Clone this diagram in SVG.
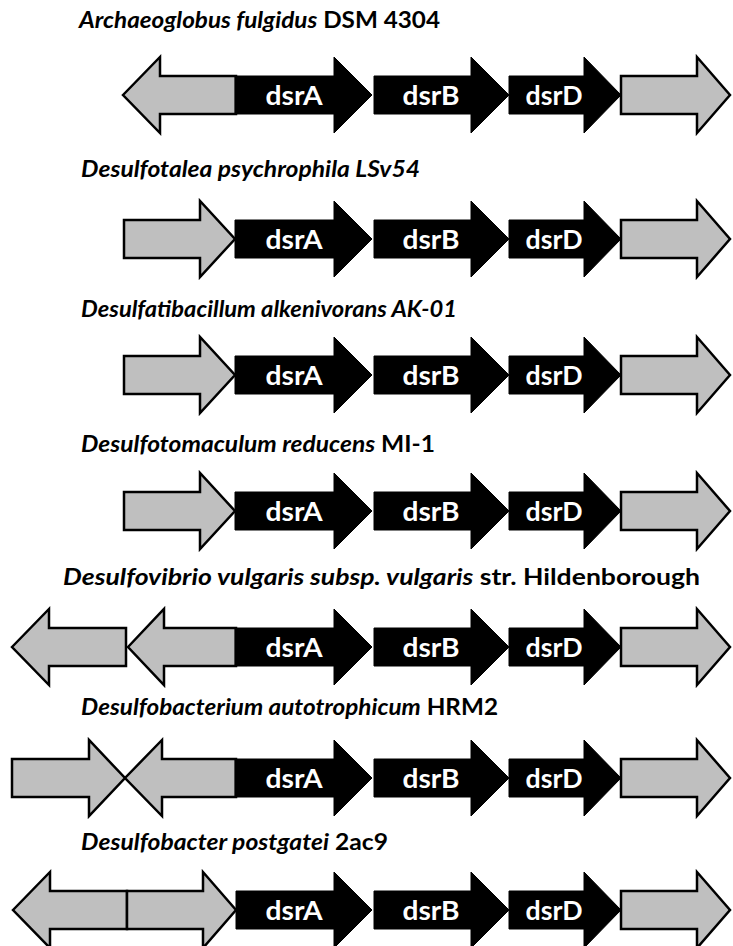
<svg xmlns="http://www.w3.org/2000/svg" width="733" height="946" viewBox="0 0 733 946">
<style>
  .grey { fill: #bfbfbf; stroke: #000; stroke-width: 2.5; stroke-linejoin: miter; }
  .black { fill: #000; stroke: #000; stroke-width: 1; }
  .lbl { font-family: Lato, "Liberation Sans", sans-serif; font-weight: bold; font-size: 26px; fill: #fff; text-anchor: middle; }
  .title { font-family: Lato, "Liberation Sans", sans-serif; font-weight: bold; font-size: 22px; fill: #000; }
  .it { font-style: italic; }
</style>
<rect width="733" height="946" fill="#fff"/>

<!-- Row 1 -->
<g id="row1" transform="translate(0,95)">
  <text class="title" x="79" y="-67" textLength="361" lengthAdjust="spacingAndGlyphs"><tspan class="it">Archaeoglobus fulgidus</tspan> DSM 4304</text>
  <g id="r1-left"><polygon class="grey" points="123,0 160,-38 160,-19 236,-19 236,19 160,19 160,38"/></g>
  <g id="r1-dsrA"><polygon class="black" points="235,-19 334,-19 334,-38 372,0 334,38 334,19 235,19"/><text class="lbl" x="294" y="10" textLength="57" lengthAdjust="spacingAndGlyphs">dsrA</text></g>
  <g id="r1-dsrB"><polygon class="black" points="374,-19 471,-19 471,-38 509,0 471,38 471,19 374,19"/><text class="lbl" x="431" y="10" textLength="57" lengthAdjust="spacingAndGlyphs">dsrB</text></g>
  <g id="r1-dsrD"><polygon class="black" points="509,-19 584,-19 584,-38 621,0 584,38 584,19 509,19"/><text class="lbl" x="554" y="10" textLength="57" lengthAdjust="spacingAndGlyphs">dsrD</text></g>
  <g id="r1-right"><polygon class="grey" points="621,-19 697,-19 697,-38 730,0 697,38 697,19 621,19"/></g>
</g>

<!-- Row 2 -->
<g id="row2" transform="translate(0,239)">
  <text class="title it" x="81" y="-62" textLength="339" lengthAdjust="spacingAndGlyphs">Desulfotalea psychrophila  LSv54</text>
  <g id="r2-left"><polygon class="grey" points="124,-19 200,-19 200,-38 235,0 200,38 200,19 124,19"/></g>
  <g id="r2-dsrA"><polygon class="black" points="235,-19 334,-19 334,-38 372,0 334,38 334,19 235,19"/><text class="lbl" x="294" y="10" textLength="57" lengthAdjust="spacingAndGlyphs">dsrA</text></g>
  <g id="r2-dsrB"><polygon class="black" points="374,-19 471,-19 471,-38 509,0 471,38 471,19 374,19"/><text class="lbl" x="431" y="10" textLength="57" lengthAdjust="spacingAndGlyphs">dsrB</text></g>
  <g id="r2-dsrD"><polygon class="black" points="509,-19 584,-19 584,-38 621,0 584,38 584,19 509,19"/><text class="lbl" x="554" y="10" textLength="57" lengthAdjust="spacingAndGlyphs">dsrD</text></g>
  <g id="r2-right"><polygon class="grey" points="621,-19 697,-19 697,-38 730,0 697,38 697,19 621,19"/></g>
</g>

<!-- Row 3 -->
<g id="row3" transform="translate(0,375)">
  <text class="title it" x="81" y="-58" textLength="376" lengthAdjust="spacingAndGlyphs">Desulfatibacillum alkenivorans AK-01</text>
  <g id="r3-left"><polygon class="grey" points="124,-19 200,-19 200,-38 235,0 200,38 200,19 124,19"/></g>
  <g id="r3-dsrA"><polygon class="black" points="235,-19 334,-19 334,-38 372,0 334,38 334,19 235,19"/><text class="lbl" x="294" y="10" textLength="57" lengthAdjust="spacingAndGlyphs">dsrA</text></g>
  <g id="r3-dsrB"><polygon class="black" points="374,-19 471,-19 471,-38 509,0 471,38 471,19 374,19"/><text class="lbl" x="431" y="10" textLength="57" lengthAdjust="spacingAndGlyphs">dsrB</text></g>
  <g id="r3-dsrD"><polygon class="black" points="509,-19 584,-19 584,-38 621,0 584,38 584,19 509,19"/><text class="lbl" x="554" y="10" textLength="57" lengthAdjust="spacingAndGlyphs">dsrD</text></g>
  <g id="r3-right"><polygon class="grey" points="621,-19 697,-19 697,-38 730,0 697,38 697,19 621,19"/></g>
</g>

<!-- Row 4 -->
<g id="row4" transform="translate(0,511)">
  <text class="title" x="81" y="-59" textLength="354" lengthAdjust="spacingAndGlyphs"><tspan class="it">Desulfotomaculum reducens</tspan> MI-1</text>
  <g id="r4-left"><polygon class="grey" points="124,-19 200,-19 200,-38 235,0 200,38 200,19 124,19"/></g>
  <g id="r4-dsrA"><polygon class="black" points="235,-19 334,-19 334,-38 372,0 334,38 334,19 235,19"/><text class="lbl" x="294" y="10" textLength="57" lengthAdjust="spacingAndGlyphs">dsrA</text></g>
  <g id="r4-dsrB"><polygon class="black" points="374,-19 471,-19 471,-38 509,0 471,38 471,19 374,19"/><text class="lbl" x="431" y="10" textLength="57" lengthAdjust="spacingAndGlyphs">dsrB</text></g>
  <g id="r4-dsrD"><polygon class="black" points="509,-19 584,-19 584,-38 621,0 584,38 584,19 509,19"/><text class="lbl" x="554" y="10" textLength="57" lengthAdjust="spacingAndGlyphs">dsrD</text></g>
  <g id="r4-right"><polygon class="grey" points="621,-19 697,-19 697,-38 730,0 697,38 697,19 621,19"/></g>
</g>

<!-- Row 5 -->
<g id="row5" transform="translate(0,647)">
  <text class="title" x="63" y="-62" textLength="637" lengthAdjust="spacingAndGlyphs"><tspan class="it">Desulfovibrio vulgaris subsp.  vulgaris</tspan> str. Hildenborough</text>
  <g id="r5-left1"><polygon class="grey" points="12,0 49,-38 49,-19 126,-19 126,19 49,19 49,38"/></g>
  <g id="r5-left2"><polygon class="grey" points="128,0 164,-38 164,-19 236,-19 236,19 164,19 164,38"/></g>
  <g id="r5-dsrA"><polygon class="black" points="235,-19 334,-19 334,-38 372,0 334,38 334,19 235,19"/><text class="lbl" x="294" y="10" textLength="57" lengthAdjust="spacingAndGlyphs">dsrA</text></g>
  <g id="r5-dsrB"><polygon class="black" points="374,-19 471,-19 471,-38 509,0 471,38 471,19 374,19"/><text class="lbl" x="431" y="10" textLength="57" lengthAdjust="spacingAndGlyphs">dsrB</text></g>
  <g id="r5-dsrD"><polygon class="black" points="509,-19 584,-19 584,-38 621,0 584,38 584,19 509,19"/><text class="lbl" x="554" y="10" textLength="57" lengthAdjust="spacingAndGlyphs">dsrD</text></g>
  <g id="r5-right"><polygon class="grey" points="621,-19 697,-19 697,-38 730,0 697,38 697,19 621,19"/></g>
</g>

<!-- Row 6 -->
<g id="row6" transform="translate(0,778)">
  <text class="title" x="81" y="-63" textLength="417" lengthAdjust="spacingAndGlyphs"><tspan class="it">Desulfobacterium autotrophicum</tspan> HRM2</text>
  <g id="r6-left1"><polygon class="grey" points="12,-19 89,-19 89,-38 125,0 89,38 89,19 12,19"/></g>
  <g id="r6-left2"><polygon class="grey" points="125,0 162,-38 162,-19 236,-19 236,19 162,19 162,38"/></g>
  <g id="r6-dsrA"><polygon class="black" points="235,-19 334,-19 334,-38 372,0 334,38 334,19 235,19"/><text class="lbl" x="294" y="10" textLength="57" lengthAdjust="spacingAndGlyphs">dsrA</text></g>
  <g id="r6-dsrB"><polygon class="black" points="374,-19 471,-19 471,-38 509,0 471,38 471,19 374,19"/><text class="lbl" x="431" y="10" textLength="57" lengthAdjust="spacingAndGlyphs">dsrB</text></g>
  <g id="r6-dsrD"><polygon class="black" points="509,-19 584,-19 584,-38 621,0 584,38 584,19 509,19"/><text class="lbl" x="554" y="10" textLength="57" lengthAdjust="spacingAndGlyphs">dsrD</text></g>
  <g id="r6-right"><polygon class="grey" points="621,-19 697,-19 697,-38 730,0 697,38 697,19 621,19"/></g>
</g>

<!-- Row 7 -->
<g id="row7" transform="translate(0,910)">
  <text class="title" x="81" y="-60" textLength="307" lengthAdjust="spacingAndGlyphs"><tspan class="it">Desulfobacter postgatei</tspan> 2ac9</text>
  <g id="r7-left1"><polygon class="grey" points="13,0 50,-38 50,-19 127,-19 127,19 50,19 50,38"/></g>
  <g id="r7-left2"><polygon class="grey" points="127,-19 203,-19 203,-38 236,0 203,38 203,19 127,19"/></g>
  <g id="r7-dsrA"><polygon class="black" points="236,-19 334,-19 334,-38 372,0 334,38 334,19 236,19"/><text class="lbl" x="294" y="10" textLength="57" lengthAdjust="spacingAndGlyphs">dsrA</text></g>
  <g id="r7-dsrB"><polygon class="black" points="374,-19 471,-19 471,-38 509,0 471,38 471,19 374,19"/><text class="lbl" x="431" y="10" textLength="57" lengthAdjust="spacingAndGlyphs">dsrB</text></g>
  <g id="r7-dsrD"><polygon class="black" points="509,-19 584,-19 584,-38 621,0 584,38 584,19 509,19"/><text class="lbl" x="554" y="10" textLength="57" lengthAdjust="spacingAndGlyphs">dsrD</text></g>
  <g id="r7-right"><polygon class="grey" points="621,-19 697,-19 697,-38 730,0 697,38 697,19 621,19"/></g>
</g>

<g id="connectors"/>
</svg>
